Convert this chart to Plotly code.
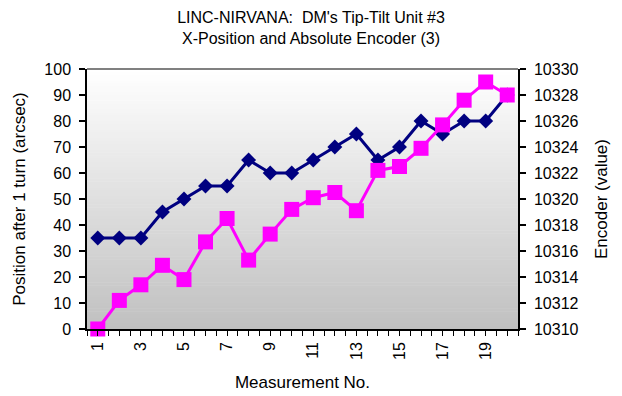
import plotly.graph_objects as go

# Measurement numbers 1..20
measurement = list(range(1, 21))

# Position after one turn (arcsec), left axis
position = [35, 35, 35, 45, 50, 55, 55, 65, 60, 60,
            65, 70, 75, 65, 70, 80, 75, 80, 80, 90]

# Absolute encoder reading, right axis
encoder = [10310.0, 10312.2, 10313.4, 10314.9, 10313.8, 10316.7, 10318.5,
           10315.3, 10317.3, 10319.2, 10320.1, 10320.5, 10319.1, 10322.2,
           10322.5, 10323.9, 10325.7, 10327.6, 10329.0, 10328.0]

left_ticks = list(range(0, 101, 10))
right_ticks = list(range(10310, 10331, 2))

FONT = "Liberation Sans, Arial, sans-serif"
NAVY = "#000080"
MAGENTA = "#FF00FF"

fig = go.Figure()

fig.add_trace(go.Scatter(
    x=measurement, y=encoder, yaxis="y2", mode="lines+markers",
    line=dict(color=MAGENTA, width=3),
    marker=dict(symbol="square", size=15, color=MAGENTA, line=dict(width=0)),
    cliponaxis=False, showlegend=False,
))
fig.add_trace(go.Scatter(
    x=measurement, y=position, yaxis="y", mode="lines+markers",
    line=dict(color=NAVY, width=3),
    marker=dict(symbol="diamond", size=11.5, color=NAVY, line=dict(width=0)),
    cliponaxis=False, showlegend=False,
))

# vertical grey gradient behind the plot area
n_strips = 90
top_rgb = (255, 255, 255)
bot_rgb = (192, 192, 192)
shapes = []
for i in range(n_strips):
    f = (i + 0.5) / n_strips
    c = [round(b + (t - b) * f) for t, b in zip(top_rgb, bot_rgb)]
    shapes.append(dict(
        type="rect", xref="x domain", yref="y domain",
        x0=0, x1=1, y0=i / n_strips, y1=(i + 1) / n_strips + 0.002,
        fillcolor=f"rgb({c[0]},{c[1]},{c[2]})", line=dict(width=0),
        layer="below",
    ))
# grey border along the top of the plot area
shapes.append(dict(
    type="line", xref="x domain", yref="y domain",
    x0=0, x1=1, y0=1, y1=1, line=dict(color="#808080", width=2),
    layer="below",
))

tickfont = dict(family=FONT, size=16, color="black")
titlefont = dict(family=FONT, size=17, color="black")

fig.update_layout(
    width=622, height=396,
    margin=dict(l=87, r=104, t=69, b=67),
    paper_bgcolor="white", plot_bgcolor="rgba(0,0,0,0)",
    font=dict(family=FONT, color="black"),
    title=dict(
        text="LINC-NIRVANA:  DM's Tip-Tilt Unit #3<br>X-Position and Absolute Encoder (3)",
        x=0.5, xref="container", xanchor="center",
        y=0.942, yref="container", yanchor="middle",
        font=dict(family=FONT, size=16, color="black"),
    ),
    shapes=shapes,
    xaxis=dict(
        range=[0.5, 20.5], tickmode="linear", tick0=1, dtick=2,
        tickangle=-90, tickfont=tickfont, automargin=False,
        ticks="outside", ticklen=5, tickwidth=1, tickcolor="black",
        minor=dict(dtick=0.5, ticks="outside", ticklen=5, tickwidth=1,
                   tickcolor="black"),
        showline=True, linecolor="black", linewidth=1.5,
        showgrid=False, zeroline=False,
        title=dict(text="Measurement No.", font=titlefont, standoff=17),
    ),
    yaxis=dict(
        range=[0, 100], tickvals=left_ticks, tickfont=tickfont,
        automargin=False,
        ticks="outside", ticklen=6, tickwidth=1.5, tickcolor="black",
        ticklabelstandoff=5,
        showline=True, linecolor="black", linewidth=1.5,
        showgrid=False, zeroline=False,
        title=dict(text="Position after 1 turn (arcsec)", font=titlefont,
                   standoff=14),
    ),
    yaxis2=dict(
        range=[10310, 10330], tickvals=right_ticks, tickformat="d",
        tickfont=tickfont, automargin=False,
        overlaying="y", side="right", anchor="x",
        ticks="outside", ticklen=6, tickwidth=1.5, tickcolor="black",
        ticklabelstandoff=5,
        showline=True, linecolor="black", linewidth=1.5,
        showgrid=False, zeroline=False,
        title=dict(text="Encoder (value)", font=titlefont, standoff=18),
    ),
    # inner halves of the crossing tick marks
    yaxis3=dict(
        range=[0, 100], tickvals=left_ticks, overlaying="y", side="left",
        anchor="x", ticks="inside", ticklen=6, tickwidth=1.5,
        tickcolor="black", showticklabels=False, showline=False,
        showgrid=False, zeroline=False, automargin=False,
    ),
    yaxis4=dict(
        range=[10310, 10330], tickvals=right_ticks, overlaying="y",
        side="right", anchor="x", ticks="inside", ticklen=6, tickwidth=1.5,
        tickcolor="black", showticklabels=False, showline=False,
        showgrid=False, zeroline=False, automargin=False,
    ),
)

fig.write_html("out.html")
